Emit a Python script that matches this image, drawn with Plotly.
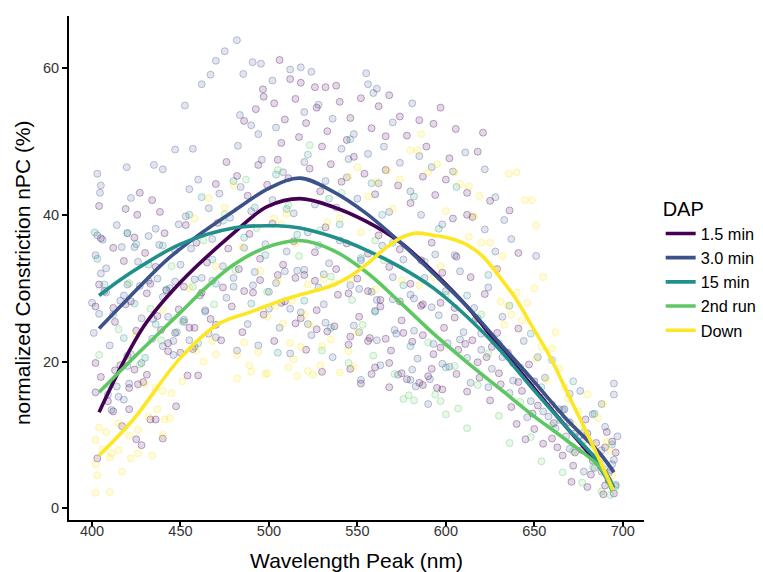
import plotly.graph_objects as go

# ---------------- data ----------------
groups = ["1.5 min", "3.0 min", "15 min", "2nd run", "Down"]
colors = ["#440154", "#3B528B", "#21908C", "#5DC863", "#FDE725"]

# smoothed (loess-like) curves
curve_x_15 = [404, 429, 450, 480, 499, 517.5, 536, 555, 574, 593, 612, 630.5, 649, 668, 687, 694]
curve_y_15 = [13.1, 24.7, 30.8, 37.5, 41.1, 42.2, 41.1, 39.1, 36.3, 32.2, 27.5, 22.0, 16.6, 11.1, 5.6, 2.6]
curve_x_30 = [404, 420, 442, 460, 480, 500, 517.5, 536, 555, 574, 593, 612, 630.5, 649, 668, 687, 695]
curve_y_30 = [24.5, 28.5, 33.8, 37.2, 40.5, 43.6, 45.0, 43.2, 40.2, 36.3, 32.0, 27.5, 22.5, 17.5, 12.2, 7.5, 4.9]
curve_x_15m = [404, 420, 450, 480, 505, 517.5, 536, 555, 574, 593, 612, 630.5, 649, 668, 687, 695]
curve_y_15m = [29.0, 31.8, 36.0, 38.2, 38.5, 38.2, 37.0, 35.2, 32.9, 30.0, 26.1, 21.6, 16.3, 11.1, 6.1, 2.8]
curve_x_2nd = [404, 429, 450, 465, 480, 499, 517.5, 536, 555, 574, 593, 612, 630.5, 649, 668, 687, 694]
curve_y_2nd = [15.8, 21.8, 26.7, 30.2, 33.2, 35.6, 36.5, 35.2, 32.2, 28.1, 23.8, 19.9, 16.3, 12.7, 9.3, 5.6, 2.3]
curve_x_down = [404, 423, 450, 472, 489, 508, 517.5, 536, 547, 555, 564.6, 574, 583.5, 593, 602, 612, 621, 630.5, 640, 649, 659, 668, 678, 687, 694.5]
curve_y_down = [7.2, 12.0, 20.5, 25.2, 26.7, 28.4, 29.1, 30.4, 31.8, 33.2, 35.2, 36.8, 37.5, 37.2, 36.8, 35.9, 34.3, 31.5, 28.4, 24.7, 20.6, 16.1, 11.1, 6.5, 2.5]

# raw observations (estimated from the scatter cloud)
pts_15 = [(496.6,57.1),(497,56.1),(492.6,54.4),(486,52.8),(506,61.1),(512,58.5),(518,58.0),(526,57.4),(532,57.4),(538,57.6),
(568,56.3),(597,54.6),(593,52.4),(605.6,51.7),(621,51.2),(618,48.6),(602,47.7),(625,41.9),(636,40.6),(604,39.5),(612,40.0),
(615,39.7),(641,34.8),(612,43.0),(503,55.2),(509,53.0),(515,55.8),(521,52.5),(527,54.6),(533,51.4),(540,55.4),(546,53.2),
(552,55.9),(558,51.8),(562,54.8),(566,50.7),(544,50.2),(530,49.3),(517,50.6),(507,49.8),(574,53.4),(578,50.8),(585,52.9),
(589,49.3),(470,44.2),(476,47.2),(482,45.3),(488,42.6),(494,46.8),(499,44.1),(505,47.5),(511,45.0),(523,46.3),(529,43.2),
(535,46.9),(541,44.5),(548,47.9),(554,45.6),(560,42.8),(566,46.1),(573,44.0),(580,41.6),(587,45.2),(594,42.7),(600,44.8),
(427,43.0),(434,42.0),(438.4,40.4),(425.6,40.0),(419,40.8),(404,41.2),(405,36.8),(412,35.5),(418,33.7),(424,36.9),(430,34.8),
(436,32.9),(441,37.5),(447,35.1),(453,38.6),(459,36.2),(465,33.5),(471,38.9),(477,35.4),(483,32.6),(489,37.4),(495,34.0),
(502,38.8),(508,33.2),(514,36.4),(520,31.8),(526,34.9),(532,38.3),(538,32.6),(544,36.1),(550,31.3),(556,34.7),(562,37.2),
(568,32.9),(574,35.3),(580,30.6),(586,33.8),(592,36.2),(598,32.1),(606,34.3),(614,31.5),(622,29.2),(629,32.6),(402,27.5),
(407,29.6),(413,25.4),(419,27.8),(425,24.2),(431,29.3),(437,26.2),(443,22.5),(449,27.1),(455,24.6),(461,29.0),(467,25.8),
(473,22.9),(479,27.5),(485,24.0),(491,29.4),(497,26.4),(503,22.8),(509,28.2),(515,25.2),(521,21.6),(527,27.0),(533,24.1),
(539,29.1),(545,22.3),(551,26.1),(557,23.2),(563,28.4),(569,21.5),(575,25.6),(581,22.7),(587,27.8),(593,21.0),(599,24.6),
(605,27.3),(611,22.4),(617,25.8),(623,20.6),(629,23.9),(635,21.2),(641,24.5),(647,19.6),(402,15.8),(402,19.8),(405,17.9),
(409,14.6),(413,18.8),(417,11.2),(421,16.4),(425,9.4),(428,8.6),(429,17.2),(433,12.1),(436,12.1),(440,9.5),(447.5,13.9),
(454,18.1),(460,18.1),(530,18.6),(552,17.0),(560,19.2),(568,16.5),(575,18.4),(585,17.1),(592,19.0),(598,16.2),(606,18.3),
(612,15.9),(619,17.8),(625,14.7),(631,16.9),(637,13.8),(643,16.0),(649,12.9),(655,15.1),(661,11.6),(667,13.5),(673,10.2),
(679,12.1),(685,8.9),(691,10.4),(403,6.8),(660,9.5),(666,7.2),(672,5.8),(677,7.9),(682,4.6),(686,6.3),(690,3.1),(693,5.2),
(695,2.0),(696,7.6),(694,9.1),(689,1.9),(680,2.9),(671,3.6),(650,10.8),(655,8.8),(640,11.5),(645,9.4),
(404,30.5),(412,27.3),(422,28.2),(433,30.6),(442,29.7),(452,30.2),(462,29.4),(474,30.1),(486,29.6),(495,31.1),
(439,24.3),(447,23.9),(458,24.6),(470,25.0),(443,21.4),(450,21.2),(457,21.7),(416,19.5),(424,18.9),(431,18.2),
(426,16.9),(412,13.2),(421,13.5),(505,31.8),(515,31.4),(526,31.0),(507,28.0),(518,25.9),(527,24.4),(537,24.8),
(545,29.3),(556,29.6),(563,27.5),(574,28.2),(586,27.6),(597,28.0),(546,23.4),(556,22.8),(566,23.1),(576,23.9),
(587,23.6),(597,21.9),(546,19.0),(558,18.3),(568,19.8),(578,17.6),(587,16.8),(595,16.4),(590,18.0),(605,26.0),
(615,22.9),(626,22.0),(638,19.8),(650,17.3),(660,14.1),(670,11.7),(680,10.2),(690,8.3),(692,3.8),(683,6.5),
(673,7.6),(663,8.3),(652,14.0),(641,17.2),(630,18.4),(618,19.9),(607,21.6)]

pts_30 = [(481.9,63.8),(475,62.3),(470,61.0),(467,59.1),(462,57.8),(490.8,60.8),(495.5,60.6),(485.5,59.2),(452.5,54.9),
(483.6,53.6),(490,52.2),(494,51.0),(447,48.9),(457,49.0),(482.5,49.4),(403,45.6),(419.6,46.5),(435,46.8),(440,46.2),
(404.5,43.0),(405,44.0),(422,42.3),(455,43.5),(453,39.8),(449,38.7),(436,38.1),(432,37.1),(403,37.2),(406,36.6),(420,37.5),
(416.8,35.6),(424,35.6),(405,32.0),(512,59.8),(518,60.1),(524,59.5),(502,58.3),(555,59.3),(556,57.8),(559,56.6),(561,57.2),
(528,55.0),(536,53.1),(520,54.0),(504,51.9),(548,51.0),(570,52.6),(581,55.2),(541,49.0),(611,48.5),(604,45.9),(622,46.2),
(628,42.4),(633,39.3),(622,38.0),(637,36.7),(651,34.4),(628,35.0),(605,34.5),(460,44.8),(466,40.9),(472,42.9),(478,39.6),
(484,43.8),(490,40.5),(496,47.5),(502,42.0),(508,45.8),(514,40.2),(520,47.2),(526,41.4),(532,44.6),(538,41.0),(544,45.1),
(550,42.2),(556,48.3),(562,44.3),(568,40.4),(574,47.1),(580,43.2),(586,40.0),(592,46.5),(598,38.7),(565,49.3),(545,47.6),
(585,48.0),(402,34.5),(408,32.7),(414,38.6),(420,30.5),(426,33.6),(432,31.0),(438,35.9),(444,30.0),(450,33.2),(456,35.4),
(462,31.4),(468,36.7),(474,33.0),(480,30.2),(486,35.5),(492,32.2),(498,36.0),(504,30.7),(510,35.0),(516,32.4),(522,37.6),
(528,30.1),(534,33.4),(540,36.5),(546,30.4),(552,33.8),(558,29.5),(564,35.8),(570,31.5),(576,33.9),(582,28.6),(588,31.4),
(594,34.6),(600,29.6),(608,32.3),(616,27.3),(624,30.1),(401,23.9),(404,26.5),(410,22.2),(416,28.3),(422,21.0),(428,25.9),
(434,23.1),(440,28.8),(446,20.9),(452,25.7),(458,22.0),(464,27.0),(470,23.3),(476,28.7),(482,21.5),(488,25.1),(494,22.2),
(500,27.2),(506,24.6),(512,21.1),(518,26.7),(524,23.6),(536,20.6),(548,24.9),(560,26.9),(572,23.8),(584,20.4),(596,26.3),
(608,23.0),(620,21.6),(632,26.1),(644,22.8),(652,20.6),(411,13.4),(415,15.2),(420,19.4),(580,17.5),(590,14.2),(602,19.3),
(614,17.1),(626,19.0),(638,17.4),(648,14.6),(656,17.8),(664,13.5),(670,15.6),(676,16.0),(683,12.8),(688,14.2),(695,15.5),
(695,17.0),(690,11.1),(692,4.8),(695,6.6),(688,7.9),(684,5.5),(678,9.3),(670,8.1),(662,10.9),(696,3.2),(697,9.8),
(400,28.0),(408,29.4),(418,29.0),(427,30.3),(437,31.3),(447,30.9),(458,31.2),(468,31.0),(480,31.4),(491,30.4),
(434.5,25.8),(443,26.1),(452,25.4),(464,26.8),(466,23.8),(440,22.1),(446,22.8),(455,22.9),(420,20.8),(428,19.8),
(421,17.0),(409,15.5),(418,14.8),(414,16.6),(509,32.3),(520,32.5),(531,31.9),(500,29.5),(512,27.2),(522,25.1),
(532,25.3),(531,27.8),(551,29.9),(561,28.4),(570,28.5),(580,29.1),(592,27.4),(551,24.0),(561,22.9),(571,24.3),
(582,24.2),(593,22.4),(601,22.5),(552,17.5),(563,19.5),(573,18.2),(581,18.9),(591,17.6),(583,16.6),(598,19.7),
(610,24.0),(620,23.8),(632,20.6),(644,18.4),(655,13.2),(665,12.0),(675,9.8),(685,7.2),(694,6.0),(688,5.0),
(678,5.0),(668,9.8),(658,12.5),(646,12.4),(636,15.7),(624,16.5),(612,20.5)]

pts_15m = [(401.5,37.6),(420,37.5),(425,36.0),(403,34.0),(407,30.5),(412,26.4),(418,23.2),(424,27.9),(430,20.5),(436,25.1),
(442,29.8),(448,24.0),(455,40.0),(462,42.4),(468,33.9),(474,39.2),(480,44.6),(486,36.9),(492,41.0),(498,34.5),(504,45.5),
(510,40.8),(516,37.3),(522,48.2),(528,35.9),(534,42.2),(540,38.7),(546,50.3),(552,34.1),(558,44.3),(564,40.0),(570,36.2),
(576,30.4),(582,42.5),(588,33.6),(596,38.1),(606,43.8),(612,29.0),(618,25.9),(624,31.8),(630,22.5),(636,27.6),(642,19.2),
(648,23.8),(654,16.5),(660,20.2),(666,13.4),(672,17.3),(678,10.4),(684,12.9),(690,6.1),(694,8.7),(696,3.0),(520,28.3),
(535,24.6),(505,21.2),(560,26.8),(580,22.1),(600,19.2),(470,30.6),(490,27.9),(432,33.2),(440,35.8),(460,22.5)]

pts_2nd = [(404,20.9),(410,16.8),(415,24.4),(421,30.7),(427,19.6),(433,27.2),(439,22.9),(445,33.0),(451,25.5),(457,30.2),
(463,36.5),(469,27.8),(475,40.1),(481,32.5),(487,44.8),(493,38.2),(499,29.5),(505,46.1),(511,41.3),(517,34.4),(523,49.5),
(529,37.9),(535,31.6),(541,43.0),(547,28.4),(553,25.0),(559,20.8),(565,33.8),(571,18.3),(576,14.9),(582,14.7),(594,15.5),
(597,14.6),(600,12.8),(579,15.4),(590,22.6),(605,19.4),(607,13.6),(612,10.9),(618,16.8),(624,21.1),(630,12.6),(636,8.9),
(642,14.5),(648,9.7),(654,6.4),(660,11.3),(666,4.9),(672,7.8),(677,3.5),(683,5.6),(688,2.3),(693,1.8),(620,26.4),(600,29.1),
(560,36.5),(545,19.8),(530,21.5)]

pts_down = [(402,2.1),(410,2.2),(403,4.5),(417,5.0),(402,6.0),(406,8.0),(410,6.9),(411,7.5),(415,7.9),(422,6.8),(426,7.5),
(434,7.2),(402,9.3),(404,11.0),(408,10.4),(415,11.6),(421,9.9),(426,10.7),(440,10.0),(432,12.5),(437,13.5),(441,12.1),
(444,12.3),(445,15.7),(451,17.3),(436,16.4),(440,16.0),(430,16.9),(482,17.7),(482,20.9),(486,22.6),(489,19.5),(494,21.3),
(498,18.3),(490,18.6),(459,21.5),(463,20.0),(468,22.8),(470,21.0),(499,18.4),(511,19.2),(516,18.0),(522,18.7),(529,19.5),
(525,18.2),(512,22.5),(518,22.0),(530,22.1),(514,20.3),(535,23.0),(540,18.5),(545,21.4),(550,24.0),(548,19.3),(499,26.1),
(504,27.6),(508,25.2),(513,28.3),(520,26.4),(523,25.0),(505,31.0),(522,30.5),(531,31.3),(537,30.7),(546,31.2),(560,29.8),
(575,31.0),(585,30.4),(593,31.5),(597,33.0),(561,44.5),(567,46.0),(574,44.8),(580,48.8),(584,48.8),(586,51.0),(590,45.8),
(595,46.9),(605,45.8),(635.6,45.6),(640,45.8),(608,44.2),(613,43.9),(619,42.6),(644.6,42.0),(648.6,42.0),(616,39.8),
(651,38.6),(613,37.0),(620,36.2),(503,39.5),(510,40.1),(507,38.7),(480,44.0),(475,41.0),(466,42.3),(458,39.5),(629,32.5),
(631,28.2),(635,27.6),(640,29.4),(646,28.0),(643,25.6),(637,26.4),(633,25.0),(650,30.0),(654,22.0),(660,21.8),(651,20.4),
(667,16.5),(669,15.0),(672,11.4),(676,10.6),(683,8.6),(688,6.8),(691,9.0),(693,7.8),(686,12.3),(689,14.2),(694,4.5),
(680,15.5),(664,19.0),(657,17.5),(675,13.2),(662,24.0),(655,31.5),(625,36.2),(632,34.4),(600,40.5),(570,40.8),(556,42.5),
(545,45.2),(540,39.5),(552,37.6),(420,20.2),(425,23.6),(440,27.1),(455,30.0),(470,33.0),(485,35.6),(495,32.4),(515,36.1),
(533,39.0),(550,46.5)]

x_ticks = [400, 450, 500, 550, 600, 650, 700]
y_ticks = [0, 20, 40, 60]
y_title = "normalized Constriction nPC (%)"
x_title = "Wavelength Peak (nm)"

# ---------------- figure ----------------
points = [pts_15, pts_30, pts_15m, pts_2nd, pts_down]
curves = [(curve_x_15, curve_y_15), (curve_x_30, curve_y_30), (curve_x_15m, curve_y_15m),
          (curve_x_2nd, curve_y_2nd), (curve_x_down, curve_y_down)]


def rgba(hexc, a):
    h = hexc.lstrip("#")
    return "rgba(%d,%d,%d,%.2f)" % (int(h[0:2], 16), int(h[2:4], 16), int(h[4:6], 16), a)


fig = go.Figure()
for g, c, pts in zip(groups, colors, points):
    fig.add_trace(go.Scatter(
        x=[p[0] for p in pts], y=[p[1] for p in pts], mode="markers",
        marker=dict(size=7, color=rgba(c, 0.15), line=dict(color=rgba(c, 0.33), width=1)),
        showlegend=False, hoverinfo="skip"))

for g, c, (cx, cy) in zip(groups, colors, curves):
    fig.add_trace(go.Scatter(
        x=cx, y=cy, mode="lines", name=g,
        line=dict(color=c, width=3.6, shape="spline", smoothing=1.0)))

font_family = "Liberation Sans, Arial, Helvetica, sans-serif"
fig.update_layout(
    width=763, height=572,
    margin=dict(l=69, r=119, t=16, b=52, autoexpand=False),
    paper_bgcolor="white", plot_bgcolor="white",
    font=dict(family=font_family, color="black"),
    legend=dict(
        title=dict(text="DAP", font=dict(size=20, color="black")),
        x=1.029, y=0.654, xanchor="left", yanchor="top",
        font=dict(size=16.3, color="black"),
        tracegroupgap=0, itemwidth=30,
    ),
    xaxis=dict(
        range=[387, 712], tickvals=x_ticks, ticktext=[str(v) for v in x_ticks],
        showgrid=False, zeroline=False,
        showline=True, linecolor="black", linewidth=2,
        ticks="outside", ticklen=5, tickcolor="black", tickwidth=1.5,
        tickfont=dict(size=14.5, color="#333333"),
        ticklabelstandoff=-8,
        title=dict(text=x_title, font=dict(size=21, color="black"), standoff=18),
    ),
    yaxis=dict(
        range=[-1.6, 67.1], tickvals=y_ticks, ticktext=[str(v) for v in y_ticks],
        showgrid=False, zeroline=False,
        showline=True, linecolor="black", linewidth=2,
        ticks="outside", ticklen=5, tickcolor="black", tickwidth=1.5,
        tickfont=dict(size=14.5, color="#333333"),
    ),
    annotations=[dict(
        text=y_title, xref="paper", yref="paper", x=-0.0817, y=0.49,
        xanchor="center", yanchor="middle", textangle=-90, showarrow=False,
        font=dict(size=21, color="black", family=font_family))],
)

fig.write_html("out.html")
